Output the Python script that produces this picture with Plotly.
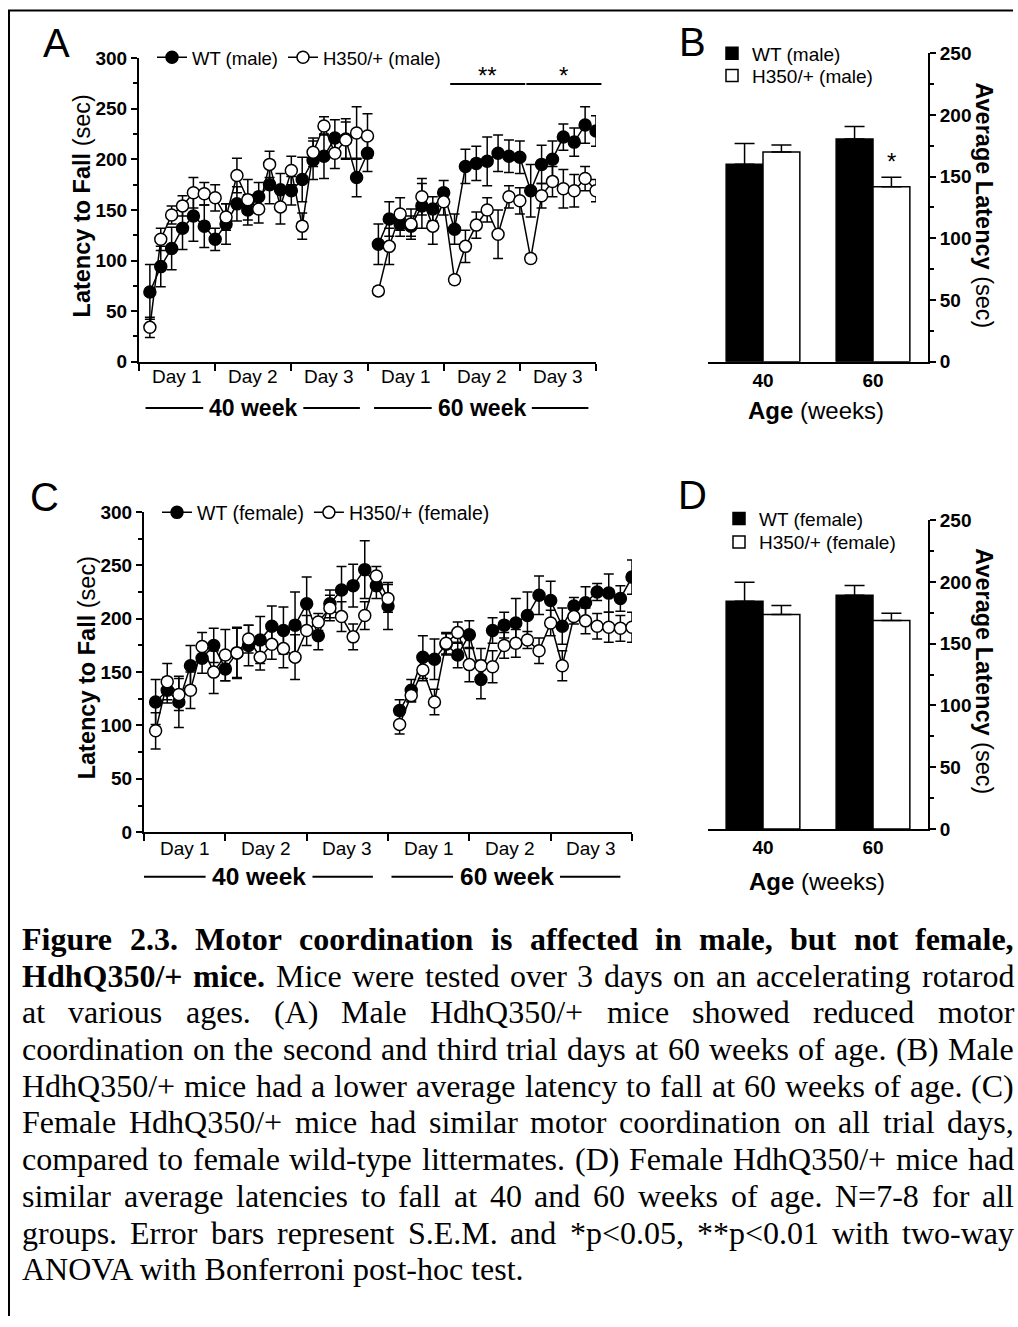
import plotly.graph_objects as go

W, H = 1018, 1327
SANS = "Liberation Sans, Arial, Helvetica, sans-serif"
SERIF = "Liberation Serif, Times New Roman, serif"

# ---------------- data ----------------
trials = list(range(1, 22))            # 7 trials x 3 days for each age
trials_per_day = 7
day_names = ["Day 1", "Day 2", "Day 3"]
age_names = ["40 week", "60 week"]

# Panel A (male), latency to fall (sec) per trial, with SEM
wt_male_40 = [69, 94, 112, 132, 144, 134, 121, 136, 156, 150, 163, 175, 170, 169, 180, 199, 203, 221, 220, 182, 206]
wt_male_40_err = [27, 20, 21, 21, 25, 21, 11, 20, 17, 15, 14, 19, 16, 14, 22, 19, 22, 18, 20, 19, 18]
h350_male_40 = [34, 121, 145, 154, 167, 166, 162, 143, 184, 160, 151, 195, 153, 189, 134, 207, 233, 206, 219, 226, 223]
h350_male_40_err = [10, 11, 9, 10, 15, 11, 13, 13, 17, 20, 14, 13, 17, 14, 13, 14, 9, 15, 18, 26, 22]
wt_male_60 = [116, 141, 136, 134, 154, 151, 167, 131, 193, 196, 198, 206, 203, 202, 169, 195, 200, 222, 217, 234, 228]
wt_male_60_err = [20, 17, 12, 10, 22, 12, 12, 15, 17, 17, 24, 18, 16, 16, 26, 19, 18, 13, 14, 18, 15]
h350_male_60 = [70, 114, 146, 136, 163, 134, 158, 81, 114, 135, 150, 126, 163, 159, 102, 164, 178, 171, 169, 181, 169]
h350_male_60_err = [4, 18, 16, 15, 18, 18, 13, 4, 16, 13, 12, 24, 11, 13, 4, 12, 15, 19, 16, 12, 11]
sig_male = {4: "**", 5: "*"}           # day index (0-5) -> significance

# Panel C (female)
wt_female_40 = [122, 133, 122, 156, 163, 175, 153, 168, 175, 180, 193, 189, 194, 214, 184, 214, 227, 231, 246, 231, 212]
wt_female_40_err = [21, 12, 24, 19, 14, 16, 11, 23, 19, 22, 19, 22, 31, 25, 13, 13, 22, 20, 27, 12, 22]
h350_female_40 = [95, 141, 129, 133, 174, 150, 166, 168, 181, 164, 176, 172, 164, 189, 197, 210, 202, 183, 203, 240, 219]
h350_female_40_err = [17, 17, 15, 17, 13, 20, 24, 24, 13, 12, 14, 18, 21, 14, 8, 12, 14, 12, 13, 9, 13]
wt_female_60 = [114, 133, 164, 162, 176, 166, 185, 143, 189, 194, 196, 203, 222, 217, 193, 212, 215, 225, 224, 219, 239]
wt_female_60_err = [10, 10, 20, 19, 10, 12, 13, 18, 12, 12, 23, 22, 18, 18, 17, 8, 15, 8, 18, 12, 16]
h350_female_60 = [101, 128, 152, 122, 177, 187, 157, 156, 155, 175, 177, 180, 170, 196, 156, 202, 198, 193, 192, 191, 192]
h350_female_60_err = [9, 6, 10, 12, 10, 10, 16, 16, 15, 12, 13, 8, 12, 12, 14, 7, 12, 12, 14, 12, 14]

# Panels B and D: average latency (sec)
bar_ages = ["40", "60"]
wt_male_avg = [160, 180.5]
wt_male_avg_err = [16.7, 10]
h350_male_avg = [170, 141.7]
h350_male_avg_err = [5.6, 7.8]
sig_male_avg = ["", "*"]
wt_female_avg = [184.5, 189.4]
wt_female_avg_err = [15.4, 7.8]
h350_female_avg = [173.8, 168.9]
h350_female_avg_err = [7.3, 5.9]

caption_lines = [
    "Figure 2.3. Motor coordination is affected in male, but not female,",
    "HdhQ350/+ mice. Mice were tested over 3 days on an accelerating rotarod",
    "at various ages. (A) Male HdhQ350/+ mice showed reduced motor",
    "coordination on the second and third trial days at 60 weeks of age. (B) Male",
    "HdhQ350/+ mice had a lower average latency to fall at 60 weeks of age. (C)",
    "Female HdhQ350/+ mice had similar motor coordination on all trial days,",
    "compared to female wild-type littermates. (D) Female HdhQ350/+ mice had",
    "similar average latencies to fall at 40 and 60 weeks of age. N=7-8 for all",
    "groups. Error bars represent S.E.M. and *p<0.05, **p<0.01 with two-way",
    "ANOVA with Bonferroni post-hoc test.",
]
caption_bold_words = [11, 2, 0, 0, 0, 0, 0, 0, 0, 0]

# ---------------- geometry (target px in the final picture) ----------------
# the page photograph is slightly compressed/offset vertically; compensate
Y_OFF, Y_SCALE = 9.07, 0.9866


def Y(y):
    return min(max((y - Y_OFF) / Y_SCALE, 0.5), H - 0.5)


def PY(y):
    return 1 - Y(y) / H


PANEL = {
    "A": dict(x0=139, x1=596, y0=57.3, y1=361.7),
    "B": dict(x0=708, x1=928, y0=52.3, y1=361.7),
    "C": dict(x0=144, x1=632, y0=512.3, y1=833.3),
    "D": dict(x0=708, x1=928, y0=520.7, y1=830.0),
}
XMAX = 2 * len(trials)


def xdom(p):
    return [PANEL[p]["x0"] / W, PANEL[p]["x1"] / W]


def ydom(p):
    return [PY(PANEL[p]["y1"]), PY(PANEL[p]["y0"])]


def lx(p, v):
    d = PANEL[p]
    return d["x0"] + v / XMAX * (d["x1"] - d["x0"])


def ly(p, v, vmax=300):
    d = PANEL[p]
    return d["y1"] - v / vmax * (d["y1"] - d["y0"])


fig = go.Figure()


def add_lines(xa, ya, leg, series, names):
    n = len(trials)
    for (v40, e40, v60, e60), name, fill in zip(series, names, ["black", "white"]):
        for k, (vals, errs) in enumerate([(v40, e40), (v60, e60)]):
            fig.add_trace(go.Scatter(
                x=[t + k * n for t in trials], y=vals, mode="lines+markers",
                name=name, legend=leg, showlegend=(k == 0),
                line=dict(color="black", width=1.5),
                marker=dict(symbol="circle", size=12, color=fill,
                            line=dict(color="black", width=1.5)),
                error_y=dict(type="data", array=errs, visible=True, color="black",
                             thickness=1.5, width=5),
                xaxis=xa, yaxis=ya, hoverinfo="skip"))


def add_bars(xa, ya, legs, series, names):
    for (vals, errs), name, fill, leg in zip(series, names, ["black", "white"], legs):
        fig.add_trace(go.Bar(
            x=bar_ages, y=vals, name=name, legend=leg,
            marker=dict(color=fill, line=dict(color="black", width=1.5)),
            error_y=dict(type="data", array=errs, arrayminus=[0] * len(errs),
                         symmetric=False, color="black", thickness=1.5, width=10),
            xaxis=xa, yaxis=ya, hoverinfo="skip"))


add_lines("x", "y", "legend",
          [(wt_male_40, wt_male_40_err, wt_male_60, wt_male_60_err),
           (h350_male_40, h350_male_40_err, h350_male_60, h350_male_60_err)],
          ["WT (male)", "H350/+ (male)"])
add_bars("x2", "y2", ["legend2", "legend3"],
         [(wt_male_avg, wt_male_avg_err), (h350_male_avg, h350_male_avg_err)],
         ["WT (male)", "H350/+ (male)"])
add_lines("x3", "y3", "legend4",
          [(wt_female_40, wt_female_40_err, wt_female_60, wt_female_60_err),
           (h350_female_40, h350_female_40_err, h350_female_60, h350_female_60_err)],
          ["WT (female)", "H350/+ (female)"])
add_bars("x4", "y4", ["legend5", "legend6"],
         [(wt_female_avg, wt_female_avg_err), (h350_female_avg, h350_female_avg_err)],
         ["WT (female)", "H350/+ (female)"])

# ---------------- axes ----------------
base = dict(showline=True, linecolor="black", linewidth=2, showgrid=False,
            zeroline=False, ticks="outside", tickcolor="black", tickwidth=2,
            fixedrange=True)
bold_tick = dict(family=SANS, size=19, color="black", weight="bold")
minor_y = dict(tickmode="linear", tick0=0, dtick=25, ticks="outside",
               ticklen=4, tickwidth=2, tickcolor="black")


def line_x(p, anchor):
    return {**base, "domain": xdom(p), "anchor": anchor, "range": [0, XMAX],
            "tickmode": "array",
            "tickvals": list(range(0, XMAX + 1, trials_per_day)),
            "ticktext": [""] * (XMAX // trials_per_day + 1), "ticklen": 7}


def line_y(p, anchor):
    return {**base, "domain": ydom(p), "anchor": anchor, "range": [0, 300],
            "tickmode": "linear", "tick0": 0, "dtick": 50, "ticklen": 6,
            "tickfont": bold_tick, "minor": minor_y}


def bar_x(p, anchor):
    return {**base, "domain": xdom(p), "anchor": anchor, "type": "category",
            "range": [-0.5, 1.5], "ticks": "", "tickfont": bold_tick}


def bar_y(p, anchor):
    return {**base, "domain": ydom(p), "anchor": anchor, "side": "right",
            "range": [0, 250], "tickmode": "linear", "tick0": 0, "dtick": 50,
            "ticklen": 6, "tickfont": bold_tick, "minor": minor_y}


def leg(x, y, size, orient="v"):
    return dict(font=dict(family=SANS, size=size, color="black"), itemwidth=30,
                bgcolor="rgba(0,0,0,0)", borderwidth=0, tracegroupgap=0,
                xanchor="left", yanchor="middle", orientation=orient,
                x=x / W, y=PY(y))


fig.update_layout(
    width=W, height=H, margin=dict(l=0, r=0, t=0, b=0),
    paper_bgcolor="white", plot_bgcolor="white",
    barmode="group", bargap=0.33, bargroupgap=0,
    xaxis=line_x("A", "y"), yaxis=line_y("A", "x"),
    xaxis2=bar_x("B", "y2"), yaxis2=bar_y("B", "x2"),
    xaxis3=line_x("C", "y3"), yaxis3=line_y("C", "x3"),
    xaxis4=bar_x("D", "y4"), yaxis4=bar_y("D", "x4"),
    legend=leg(152, 57, 18.5, "h"),
    legend2=leg(712, 52.5, 19),
    legend3=leg(712, 75, 19),
    legend4=leg(157, 513, 19.5, "h"),
    legend5=leg(719, 519, 19),
    legend6=leg(719, 542.5, 19),
)

# ---------------- annotations & shapes ----------------
ann = []
shapes = []


def text(x, y, s, size, family=SANS, xanchor="center", yanchor="middle", angle=0):
    ann.append(dict(x=x / W, y=PY(y), xref="paper", yref="paper", text=s,
                    showarrow=False, font=dict(family=family, size=size, color="black"),
                    xanchor=xanchor, yanchor=yanchor, textangle=angle,
                    borderpad=0, borderwidth=0))


def hline(x0, x1, y, width=2):
    shapes.append(dict(type="line", xref="paper", yref="paper", x0=x0 / W, x1=x1 / W,
                       y0=PY(y), y1=PY(y), line=dict(color="black", width=width)))


def vline(x, y0, width=2):
    shapes.append(dict(type="line", xref="paper", yref="paper", x0=x / W, x1=x / W,
                       y0=PY(y0), y1=0, line=dict(color="black", width=width)))


# frame
hline(8, 1013, 5)
vline(9, 4)

# panel letters
text(56, 42, "A", 40)
text(692, 41, "B", 40)
text(44, 497, "C", 40)
text(692, 495, "D", 40)

# day labels, week labels for line panels
for p, day_y, week_y, centers, wsize in [("A", 376, 408, (10.5, 31.5), 23),
                                          ("C", 849.5, 878, (9.9, 31.2), 24.5)]:
    for k in range(len(age_names)):
        for d, dn in enumerate(day_names):
            xc = (k * len(day_names) + d + 0.5) * trials_per_day
            text(lx(p, xc), day_y, dn, 19)
    for c, name in zip(centers, age_names):
        text(lx(p, c), week_y, "<b>%s</b>" % name, wsize)
        hline(lx(p, c - 9.9), lx(p, c - 4.6), week_y)
        hline(lx(p, c + 4.6), lx(p, c + 9.8), week_y)

# significance in A
for d, star in sig_male.items():
    x0 = d * trials_per_day + 0.6
    x1 = d * trials_per_day + 7.5
    hline(lx("A", x0), lx("A", x1), 83.3)
    text(lx("A", (x0 + x1) / 2), 75, star, 24)

# significance in B (above H350 bar at 60)
for i, star in enumerate(sig_male_avg):
    if star:
        top = h350_male_avg[i] + h350_male_avg_err[i]
        text(891, ly("B", top, 250) - 16, star, 24)

# axis titles
text(82, 206, "<b>Latency to Fall</b> (sec)", 23.5, angle=-90)
text(87, 669, "<b>Latency to Fall</b> (sec)", 23.5, angle=-90)
text(984, 205, "<b>Average Latency</b> (sec)", 23.5, angle=90)
text(984, 672, "<b>Average Latency</b> (sec)", 23.5, angle=90)
text(816, 411, "<b>Age</b> (weeks)", 24)
text(817, 883, "<b>Age</b> (weeks)", 24)

# ---------------- caption (justified, Times metrics) ----------------
TR = {" ": 250, "(": 333, ")": 333, "*": 500, "+": 564, ",": 250, "-": 333, ".": 250,
      "/": 278, ":": 278, "<": 564, "=": 564,
      "A": 722, "B": 667, "C": 667, "D": 722, "E": 611, "F": 556, "G": 722, "H": 722,
      "I": 333, "J": 389, "K": 722, "L": 611, "M": 889, "N": 722, "O": 722, "P": 556,
      "Q": 722, "R": 667, "S": 556, "T": 611, "U": 722, "V": 722, "W": 944, "X": 722,
      "Y": 722, "Z": 611,
      "a": 444, "b": 500, "c": 444, "d": 500, "e": 444, "f": 333, "g": 500, "h": 500,
      "i": 278, "j": 278, "k": 500, "l": 278, "m": 778, "n": 500, "o": 500, "p": 500,
      "q": 500, "r": 333, "s": 389, "t": 278, "u": 500, "v": 500, "w": 722, "x": 500,
      "y": 500, "z": 444}
TB = {" ": 250, "(": 333, ")": 333, "*": 500, "+": 570, ",": 250, "-": 333, ".": 250,
      "/": 278, ":": 333, "<": 570, "=": 570,
      "A": 722, "B": 667, "C": 722, "D": 722, "E": 667, "F": 611, "G": 778, "H": 778,
      "I": 389, "J": 500, "K": 778, "L": 667, "M": 944, "N": 722, "O": 778, "P": 611,
      "Q": 778, "R": 722, "S": 556, "T": 667, "U": 722, "V": 722, "W": 1000, "X": 722,
      "Y": 722, "Z": 667,
      "a": 500, "b": 556, "c": 444, "d": 556, "e": 444, "f": 333, "g": 500, "h": 556,
      "i": 278, "j": 333, "k": 556, "l": 278, "m": 833, "n": 556, "o": 500, "p": 556,
      "q": 556, "r": 444, "s": 389, "t": 333, "u": 556, "v": 500, "w": 722, "x": 500,
      "y": 500, "z": 444}
CAP_SIZE = 32
CAP_L, CAP_R = 22, 1014
CAP_BASE0, CAP_LEAD = 951, 36.8


def wwidth(word, bold):
    tab = TB if bold else TR
    return sum(tab.get(ch, 500) for ch in word) * CAP_SIZE / 1000.0


def esc(s):
    return s.replace("&", "&amp;").replace("<", "&lt;").replace(">", "&gt;")


for i, (line, nb) in enumerate(zip(caption_lines, caption_bold_words)):
    yc = CAP_BASE0 + i * CAP_LEAD - 0.3375 * CAP_SIZE
    words = line.split(" ")
    if i == len(caption_lines) - 1:
        # last line of a justified paragraph: left aligned, natural spacing
        text(CAP_L, yc, esc(line), CAP_SIZE, family=SERIF, xanchor="left")
        continue
    bolds = [j < nb for j in range(len(words))]
    widths = [wwidth(w, b) for w, b in zip(words, bolds)]
    gap = (CAP_R - CAP_L - sum(widths)) / (len(words) - 1)
    x = CAP_L
    for w, b, wd in zip(words, bolds, widths):
        s = esc(w)
        if b:
            s = "<b>%s</b>" % s
        text(x, yc, s, CAP_SIZE, family=SERIF, xanchor="left")
        x += wd + gap

fig.update_layout(annotations=ann, shapes=shapes)
fig.write_html(
    "out.html", include_plotlyjs=True, config={"displayModeBar": False},
    post_script="document.documentElement.style.margin='0';"
                "document.body.style.margin='0';document.body.style.overflow='hidden';")
